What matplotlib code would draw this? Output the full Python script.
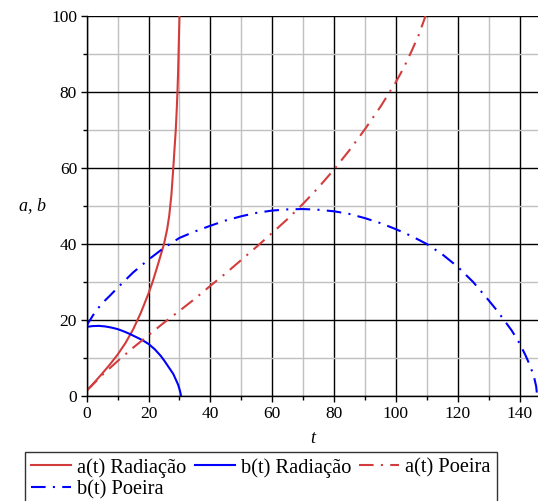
import matplotlib
matplotlib.use('Agg')
import matplotlib.pyplot as plt
from matplotlib.ticker import MultipleLocator

plt.rcParams['font.family'] = ['Liberation Serif', 'DejaVu Serif']
plt.rcParams['font.size'] = 12.5

# a(t) Radiação
t_a_rad = [0, 2.5, 5, 7.5, 10, 12.5, 15, 17.5, 20, 21.3, 23, 25, 26, 26.7, 27.4,
           28, 28.4, 28.8, 29.1, 29.35, 29.55, 29.7, 29.85, 30.0]
a_rad = [1.4, 3.6, 5.9, 8.3, 10.9, 13.9, 17.5, 21.9, 27, 30, 34.5, 40, 43.8, 47.5, 53,
         60, 65, 70, 75, 80, 85, 90, 95, 100]

# b(t) Radiação
t_b_rad = [0, 2, 4, 6, 8, 10, 12, 14, 16, 18, 20, 22, 24, 25, 26, 27, 28, 29, 29.6,
           30, 30.3, 30.5]
b_rad = [18.2, 18.4, 18.45, 18.3, 18.0, 17.6, 17.0, 16.3, 15.5, 14.7, 13.7, 12.3,
         10.5, 9.4, 8.2, 7.0, 5.8, 4.0, 2.9, 1.8, 0.9, 0]

# a(t) Poeira
t_a_dust = [0, 5, 10, 15, 20, 25, 30, 35, 40, 45, 50, 55, 60, 65, 70, 75, 80, 85, 90,
            95, 100, 102.5, 105, 107.5, 109.6]
a_dust = [1.4, 5.5, 9.2, 12.7, 16.0, 19.3, 22.4, 25.6, 29.0, 32.3, 35.8, 39.3, 42.9,
          46.6, 50.6, 54.9, 59.6, 64.7, 70.2, 76.1, 82.6, 86.3, 90.6, 95.2, 100]

# b(t) Poeira
t_b_dust = [0, 0.5, 1.1, 2, 3.5, 5, 7.5, 10, 15, 20, 25, 30, 35, 40, 45, 50, 55, 60,
            65, 70, 75, 80, 85, 90, 95, 100, 105, 110, 115, 120, 125, 130, 132.5, 135,
            137.5, 140, 142, 143.5, 144.7, 145.4, 145.7]
b_dust = [18.3, 19.3, 20, 21.2, 22.9, 24.4, 26.4, 28.5, 32.5, 35.9, 39.0, 41.6, 43.3,
          44.8, 46.2, 47.3, 48.2, 48.8, 49.1, 49.2, 49.0, 48.6, 47.9, 46.8, 45.5, 43.9,
          42.1, 40.0, 37.3, 34.0, 30.0, 25.2, 22.7, 20, 17.2, 13.9, 10.6, 7.8, 5, 2.5, 0]

red = '#d23c3c'
blue = '#0000ff'
dashdot = (0, (7, 3.5, 1, 3.5))

fig = plt.figure(figsize=(5.38, 5.01), dpi=100)
ax = fig.add_axes([0.1612, 0.2096, 0.8389, 0.7585])

l1, = ax.plot(t_a_rad, a_rad, color=red, lw=1.5, label='a(t) Radiação')
l2, = ax.plot(t_b_rad, b_rad, color=blue, lw=1.5, label='b(t) Radiação')
l3, = ax.plot(t_a_dust, a_dust, color=red, lw=1.5, linestyle=dashdot, label='a(t) Poeira')
l4, = ax.plot(t_b_dust, b_dust, color=blue, lw=1.5, linestyle=dashdot, label='b(t) Poeira')

ax.set_xlim(0, 146)
ax.set_ylim(0, 100)
ax.xaxis.set_major_locator(MultipleLocator(20))
ax.xaxis.set_minor_locator(MultipleLocator(10))
ax.yaxis.set_major_locator(MultipleLocator(20))
ax.yaxis.set_minor_locator(MultipleLocator(10))
ax.grid(which='major', color='black', lw=1.0)
ax.grid(which='minor', color='#c0c0c0', lw=1.0)
ax.set_axisbelow(True)

for s in ['top', 'right']:
    ax.spines[s].set_visible(False)
for s in ['left', 'bottom']:
    ax.spines[s].set_linewidth(1.0)
ax.tick_params(which='major', length=4, width=1, direction='out', pad=3)
ax.tick_params(which='minor', length=3, width=1, direction='out')

ax.set_xlabel('t', fontstyle='italic', fontsize=13, labelpad=6)
ax.set_ylabel('a, b', fontstyle='italic', fontsize=13, rotation=0, va='center')
ax.yaxis.set_label_coords(-0.12, 0.5)

# column-major fill, so order gives rows: a rad, b rad, a dust / b dust
leg = fig.legend([l1, l4, l2, l3],
                 ['a(t) Radiação', 'b(t) Poeira', 'b(t) Radiação', 'a(t) Poeira'],
                 loc='upper left', bbox_to_anchor=(0.047, 0.0984), ncol=3,
                 frameon=True, fancybox=False, edgecolor='black', fontsize=14.7,
                 handlelength=1.95, handletextpad=0.3, columnspacing=0.4,
                 labelspacing=0.12, borderpad=0.3, borderaxespad=0)
leg.get_frame().set_linewidth(1.0)

fig.savefig('out.png', dpi=100)
